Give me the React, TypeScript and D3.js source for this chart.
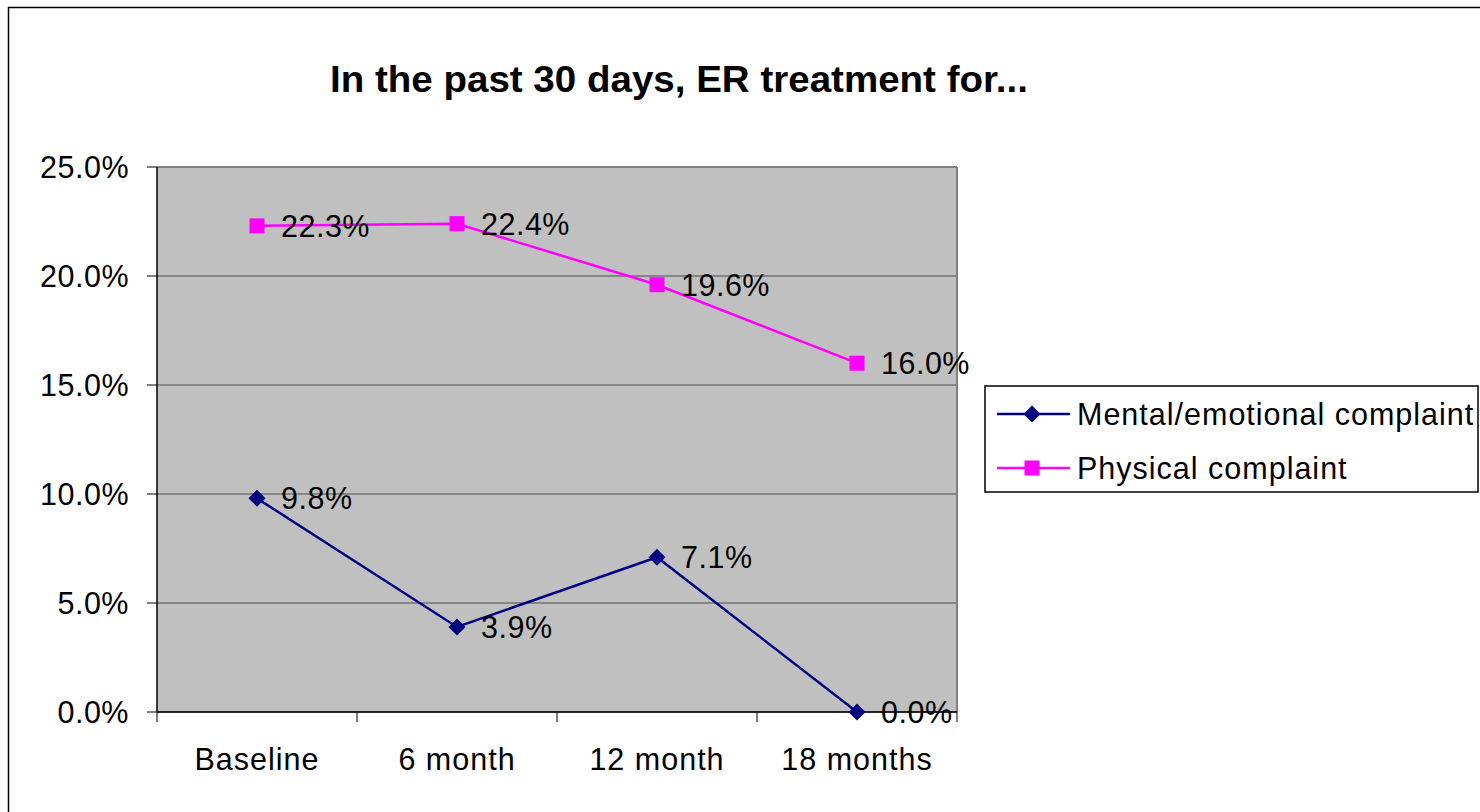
import React from "react";
import * as d3 from "d3";

const categories = ["Baseline", "6 month", "12 month", "18 months"];
const mentalValues = [9.8, 3.9, 7.1, 0.0];
const physicalValues = [22.3, 22.4, 19.6, 16.0];
const yTickValues = [0, 5, 10, 15, 20, 25];
const seriesNames = ["Mental/emotional complaint", "Physical complaint"];
const titleText = "In the past 30 days, ER treatment for...";

const FONT = "Arial, 'Liberation Sans', sans-serif";

export default function App() {
  const left = 157, right = 957, top = 167, bottom = 712;
  const x = d3.scaleBand<string>().domain(categories).range([left, right]);
  const y = d3.scaleLinear().domain([0, 25]).range([bottom, top]);
  const cx = (c: string) => (x(c) as number) + x.bandwidth() / 2;
  const line = d3
    .line<number>()
    .x((_, i) => cx(categories[i]))
    .y((d) => y(d));
  const fmt = (v: number) => v.toFixed(1) + "%";
  const navy = "#000080";
  const magenta = "#FF00FF";
  const diamond = (px: number, py: number, r: number) =>
    `M${px},${py - r}L${px + r},${py}L${px},${py + r}L${px - r},${py}Z`;

  return (
    <svg
      width={1480}
      height={812}
      style={{ position: "absolute", left: 0, top: 0, background: "#fff" }}
      fontFamily={FONT}
    >
      <rect x={0} y={0} width={1480} height={812} fill="#fff" />
      <rect x={8.5} y={7.5} width={1500} height={900} fill="none" stroke="#000" strokeWidth={1.5} />
      <text
        x={679}
        y={92}
        textAnchor="middle"
        fontSize={37}
        fontWeight="bold"
        textLength={698}
        lengthAdjust="spacingAndGlyphs"
      >
        {titleText}
      </text>

      {/* plot area */}
      <rect x={left} y={top} width={right - left} height={bottom - top} fill="#C0C0C0" />
      {yTickValues.map((t) => (
        <line key={"g" + t} x1={left} x2={right} y1={y(t)} y2={y(t)} stroke="#4a4a4a" strokeWidth={1} />
      ))}
      <line x1={left} x2={right} y1={top} y2={top} stroke="#808080" strokeWidth={2} />
      <line x1={right} x2={right} y1={top} y2={bottom} stroke="#808080" strokeWidth={2} />
      <line x1={left} x2={left} y1={top} y2={bottom} stroke="#000" strokeWidth={1.5} />
      <line x1={left} x2={right} y1={bottom} y2={bottom} stroke="#000" strokeWidth={1.5} />

      {/* y ticks */}
      {yTickValues.map((t) => (
        <g key={"t" + t}>
          <line x1={left - 10} x2={left} y1={y(t)} y2={y(t)} stroke="#000" strokeWidth={1} />
          <text x={129} y={y(t)} dy="0.36em" textAnchor="end" fontSize={30.5} letterSpacing={0.5}>
            {fmt(t)}
          </text>
        </g>
      ))}

      {/* x ticks */}
      {[...categories.map((c) => x(c) as number), right].map((v, i) => (
        <line key={"xt" + i} x1={v} x2={v} y1={bottom} y2={bottom + 10} stroke="#000" strokeWidth={1} />
      ))}
      {categories.map((c) => (
        <text key={"c" + c} x={cx(c)} y={770} textAnchor="middle" fontSize={30.5} letterSpacing={1}>
          {c}
        </text>
      ))}

      {/* physical */}
      <path d={line(physicalValues) || ""} fill="none" stroke={magenta} strokeWidth={2.5} />
      {physicalValues.map((v, i) => (
        <rect key={"p" + i} x={cx(categories[i]) - 7.5} y={y(v) - 7.5} width={15} height={15} fill={magenta} />
      ))}
      {/* mental */}
      <path d={line(mentalValues) || ""} fill="none" stroke={navy} strokeWidth={2.5} />
      {mentalValues.map((v, i) => (
        <path key={"m" + i} d={diamond(cx(categories[i]), y(v), 8.5)} fill={navy} />
      ))}

      {/* data labels */}
      {physicalValues.map((v, i) => (
        <text key={"pl" + i} x={cx(categories[i]) + 24} y={y(v)} dy="0.36em" fontSize={30.5} letterSpacing={0.5}>
          {fmt(v)}
        </text>
      ))}
      {mentalValues.map((v, i) => (
        <text key={"ml" + i} x={cx(categories[i]) + 24} y={y(v)} dy="0.36em" fontSize={30.5} letterSpacing={0.5}>
          {fmt(v)}
        </text>
      ))}

      {/* legend */}
      <rect x={985} y={386} width={493} height={106} fill="#fff" stroke="#000" strokeWidth={1.5} />
      <line x1={997} x2={1070} y1={414} y2={414} stroke={navy} strokeWidth={2.5} />
      <path d={diamond(1032, 414, 8.5)} fill={navy} />
      <text x={1077} y={414} dy="0.36em" fontSize={30.5} letterSpacing={1}>
        {seriesNames[0]}
      </text>
      <line x1={997} x2={1070} y1={468} y2={468} stroke={magenta} strokeWidth={2.5} />
      <rect x={1024.5} y={460.5} width={15} height={15} fill={magenta} />
      <text x={1077} y={468} dy="0.36em" fontSize={30.5} letterSpacing={1}>
        {seriesNames[1]}
      </text>
    </svg>
  );
}
